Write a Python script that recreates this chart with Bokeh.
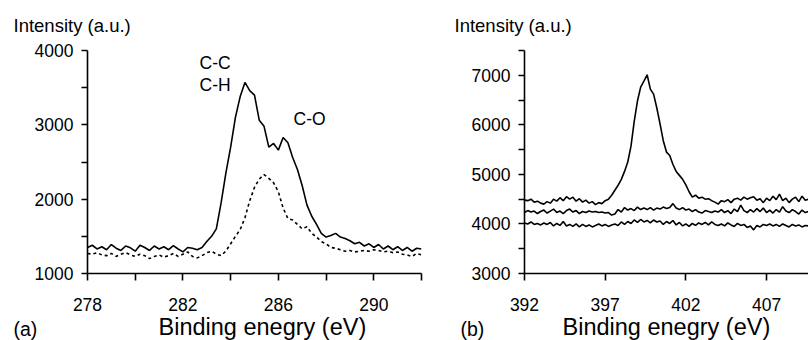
import numpy as np
from bokeh.plotting import figure
from bokeh.models import Range1d, FixedTicker, Label
from bokeh.layouts import row, column
from bokeh.core.properties import value
from bokeh.embed import file_html
from bokeh.resources import INLINE

# ---------------- data: panel (a), C 1s ----------------
c1s_energy = np.round(np.arange(278.0, 292.0001, 0.2), 1)
c1s_treated = [
    1350, 1380, 1330, 1360, 1320, 1390, 1340, 1310, 1370, 1345,
    1300, 1380, 1350, 1310, 1370, 1330, 1360, 1320, 1375, 1330,
    1290, 1350, 1340, 1320, 1350, 1430, 1500, 1600, 1950, 2350,
    2700, 3100, 3380, 3570, 3460, 3400, 3060, 2980, 2700, 2750,
    2660, 2830, 2760, 2560, 2400, 2180, 1920, 1770, 1660, 1540,
    1490, 1510, 1540, 1490, 1470, 1440, 1400, 1420, 1370, 1400,
    1350, 1390, 1330, 1370, 1320, 1360, 1310, 1350, 1300, 1340,
    1330]
c1s_untreated = [
    1270, 1260, 1280, 1250, 1240, 1270, 1230, 1260, 1280, 1250,
    1230, 1260, 1240, 1200, 1230, 1250, 1220, 1240, 1270, 1230,
    1260, 1290, 1230, 1210, 1240, 1280, 1300, 1260, 1240, 1300,
    1400, 1500, 1590, 1750, 1980, 2160, 2270, 2330, 2280, 2220,
    2100, 1880, 1740, 1720, 1660, 1600, 1630, 1540, 1490, 1430,
    1400, 1350, 1340, 1320, 1300, 1310, 1290, 1300, 1310, 1300,
    1320, 1310, 1290, 1300, 1280, 1290, 1260, 1250, 1230, 1270,
    1250]
c1s_xticks = [278, 282, 286, 290]
c1s_xminor = [280, 284, 288, 292]
c1s_yticks = [1000, 2000, 3000, 4000]
c1s_yminor = [1500, 2500, 3500]

# ---------------- data: panel (b), N 1s ----------------
n1s_energy = np.round(np.arange(392.0, 409.6001, 0.2), 1)
n1s_top = [
    4480, 4470, 4500, 4440, 4460, 4420, 4400, 4450, 4420, 4500,
    4460, 4530, 4470, 4550, 4500, 4540, 4460, 4510, 4440, 4480,
    4420, 4450, 4390, 4430, 4410, 4470, 4500, 4580, 4680, 4780,
    4900, 5060, 5250, 5570, 6070, 6480, 6760, 6880, 7010, 6720,
    6620, 6340, 6020, 5680, 5450, 5380, 5200, 5060, 4980, 4900,
    4790, 4650, 4540, 4580, 4520, 4540, 4500, 4510, 4470, 4440,
    4400, 4470, 4450, 4490, 4430, 4500, 4520, 4480, 4540, 4500,
    4530, 4550, 4480, 4510, 4430, 4520, 4470, 4560, 4490, 4600,
    4470, 4520, 4430, 4500, 4540, 4450, 4560, 4480, 4500]
n1s_mid = [
    4230, 4270, 4240, 4260, 4210, 4250, 4280, 4220, 4260, 4300,
    4230, 4260, 4210, 4270, 4300, 4240, 4270, 4210, 4250, 4230,
    4260, 4240, 4250, 4230, 4240, 4220, 4230, 4180, 4200, 4290,
    4240, 4330, 4280, 4310, 4270, 4340, 4290, 4320, 4290, 4330,
    4280, 4320, 4300, 4340, 4310, 4330, 4410, 4320, 4290, 4330,
    4280, 4300, 4250, 4290, 4240, 4220, 4270, 4250, 4230, 4260,
    4240, 4290, 4230, 4270, 4210, 4300, 4250, 4380, 4270, 4230,
    4290, 4240, 4310, 4250, 4320, 4230, 4280, 4220, 4290, 4240,
    4350, 4260, 4230, 4290, 4250, 4200, 4280, 4230, 4250]
n1s_bottom = [
    4020, 4000, 4040, 3990, 4010, 3980, 4020, 3990, 4030, 3960,
    4010, 3970, 4050, 3960, 3990, 3950, 4000, 3940, 3990, 3950,
    3980, 3940, 3970, 4000, 3960, 3990, 3950, 3980, 4000, 3970,
    4040, 3990, 4050, 4010, 4080, 4030, 4090, 4040, 4070, 4020,
    4080, 4040, 4060, 3990, 4050, 4010, 4070, 3980, 4030, 3960,
    4000, 3950, 4010, 3970, 4020, 3990, 4030, 3980, 4040, 3990,
    3970, 4000, 3960, 4020, 3980, 3950, 4010, 3970, 3990, 3930,
    3960, 3880, 3970, 3940, 3990, 3970, 4000, 3960, 3990, 3950,
    4000, 3970, 3940, 3990, 3960, 3980, 3940, 3970, 3960]
n1s_xticks = [392, 397, 402, 407]
n1s_yticks = [3000, 4000, 5000, 6000, 7000]
n1s_yminor = [3500, 4500, 5500, 6500, 7500]

FONT = "Liberation Sans"
WIDTH = 808
TOP_H, BOT_H = 36, 27
PANEL_H = 340 - TOP_H          # bottom strip overlaps the panels' bottom
BASE_FIX = 0.35  # empirical raise (in em) for alphabetic-baseline text


def style(p, xt, xm, yt, ym):
    p.title.visible = False
    p.outline_line_color = None
    p.background_fill_color = "white"
    p.border_fill_color = "white"
    p.xgrid.visible = False
    p.ygrid.visible = False
    p.xaxis[0].ticker = FixedTicker(ticks=xt, minor_ticks=xm)
    p.yaxis[0].ticker = FixedTicker(ticks=yt, minor_ticks=ym)
    for ax in (p.xaxis[0], p.yaxis[0]):
        ax.axis_line_color = "black"
        ax.axis_line_width = 1.6
        ax.major_tick_line_color = "black"
        ax.major_tick_line_width = 1.6
        ax.minor_tick_line_color = "black"
        ax.minor_tick_line_width = 1.6
        ax.major_tick_in = 0
        ax.minor_tick_in = 0
        ax.major_label_text_font = FONT
        ax.major_label_text_font_size = "17.5px"
        ax.major_label_text_color = "black"
    p.xaxis[0].major_tick_out = 7
    p.xaxis[0].minor_tick_out = 7
    p.yaxis[0].major_tick_out = 6
    p.yaxis[0].minor_tick_out = 6
    p.xaxis[0].major_label_standoff = 17
    p.yaxis[0].major_label_standoff = 8


def add_text(p, text, x, y, size):
    p.add_layout(Label(x=x, y=y, text=text, text_font=FONT,
                       text_font_size=f"{size}px", text_color="black",
                       text_align="left", text_baseline="alphabetic"))


def strip(h, **kw):
    s = figure(width=WIDTH, height=h, output_backend="svg",
               toolbar_location=None, x_range=Range1d(0, WIDTH),
               y_range=Range1d(0, h), x_axis_type=None, y_axis_type=None,
               min_border=0, **kw)
    s.title.visible = False
    s.outline_line_color = None
    return s


# ---------------- panel (a) ----------------
W1, L1, R1, T1 = 440, 87, 19, 14
FH1 = 226
B1 = PANEL_H - T1 - FH1
p1 = figure(width=W1, height=PANEL_H, output_backend="svg",
            toolbar_location=None,
            x_range=Range1d(278, 292), y_range=Range1d(1000, 4000),
            min_border_left=L1, min_border_right=R1,
            min_border_top=T1, min_border_bottom=B1)
style(p1, c1s_xticks, c1s_xminor, c1s_yticks, c1s_yminor)
p1.line(c1s_energy, c1s_untreated, line_color="black", line_width=1.6,
        line_dash="3 3")
p1.line(c1s_energy, c1s_treated, line_color="black", line_width=1.6)

fw1 = W1 - L1 - R1


def a_x(px):  # page pixel -> data (panel a)
    return 278 + (px - L1) * 14 / fw1


def a_y(py, size):  # page baseline pixel -> data, with baseline fix
    py = py - BASE_FIX * size
    return 1000 + (TOP_H + T1 + FH1 - py) * 3000 / FH1


add_text(p1, "C-C", a_x(199), a_y(69, 17.5), 17.5)
add_text(p1, "C-H", a_x(199), a_y(91, 17.5), 17.5)
add_text(p1, "C-O", a_x(293), a_y(126, 17.5), 17.5)

# ---------------- panel (b) ----------------
W2, L2, R2, T2 = WIDTH - W1, 84, 0, 10
FH2 = 227
B2 = PANEL_H - T2 - FH2
X2MAX = 392 + (W2 - L2 - R2) / 16.136
p2 = figure(width=W2, height=PANEL_H, output_backend="svg",
            toolbar_location=None,
            x_range=Range1d(392, X2MAX), y_range=Range1d(3000, 7500),
            min_border_left=L2, min_border_right=R2,
            min_border_top=T2, min_border_bottom=B2)
style(p2, n1s_xticks, [], n1s_yticks, n1s_yminor)
for ser in (n1s_bottom, n1s_mid, n1s_top):
    p2.line(n1s_energy, ser, line_color="black", line_width=1.6)

# ---------------- text strips (outside the plot frames) ----------------
top = strip(TOP_H)
top.background_fill_color = "white"
top.border_fill_color = "white"
ty = TOP_H - 31 + BASE_FIX * 18.5
top.text(x=[13, 454], y=[ty, ty],
         text=["Intensity (a.u.)", "Intensity (a.u.)"],
         text_font=value(FONT), text_font_size=value("18.5px"),
         text_color="black", text_align="left", text_baseline="alphabetic")

# transparent strip laid over the bottom of the panels
bottom = strip(BOT_H, margin=(-BOT_H, 0, 0, 0))
bottom.background_fill_color = None
bottom.border_fill_color = None
by = 340 - 334.9 + BASE_FIX * 23.5
bottom.text(x=[158, 562], y=[by, by],
            text=["Binding enegry (eV)", "Binding enegry (eV)"],
            text_font=value(FONT), text_font_size=value("23.5px"),
            text_color="black", text_align="left", text_baseline="alphabetic")
ay = 340 - 335.8 + BASE_FIX * 19.5
bottom.text(x=[13, 460], y=[ay, ay],
            text=["(a)", "(b)"],
            text_font=value(FONT), text_font_size=value("19.5px"),
            text_color="black", text_align="left", text_baseline="alphabetic")

layout = column(top, row(p1, p2), bottom)
open("out.html", "w").write(file_html(layout, INLINE))
